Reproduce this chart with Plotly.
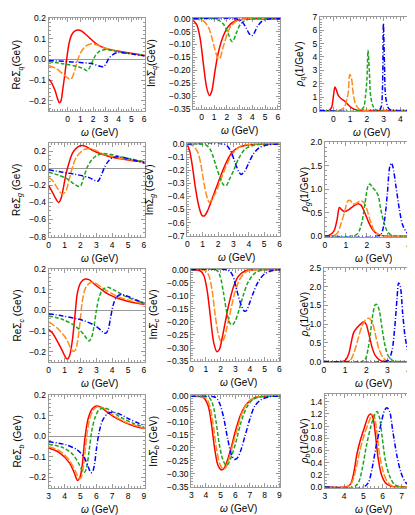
import plotly.graph_objects as go

W, H = 415, 515

# ---- row 1: light quark q ----
re_q_red = [(-1.5, -0.095), (-1.3, -0.11), (-1.0, -0.15), (-0.8, -0.19), (-0.65, -0.21), (-0.55, -0.205),
            (-0.4, -0.15), (-0.2, -0.06), (-0.08, 0.0), (0.1, 0.075), (0.3, 0.117), (0.57, 0.137),
            (0.83, 0.142), (1.1, 0.136), (1.6, 0.11), (2.25, 0.075), (3.0, 0.052), (4.05, 0.039),
            (5.1, 0.028), (6.05, 0.02)]
re_q_orange = [(-1.5, -0.03), (-0.9, -0.045), (-0.34, -0.073), (-0.03, -0.089), (0.18, -0.097), (0.34, -0.089),
               (0.57, -0.05), (0.83, 0.005), (1.09, 0.039), (1.42, 0.064), (1.87, 0.075), (2.25, 0.07),
               (2.9, 0.055), (3.8, 0.039), (4.85, 0.028), (6.05, 0.02)]
re_q_green = [(-1.5, -0.011), (-0.34, -0.022), (0.7, -0.034), (1.22, -0.045), (1.53, -0.055), (1.68, -0.045),
              (1.94, -0.011), (2.2, 0.02), (2.5, 0.039), (3.03, 0.047), (3.8, 0.039), (4.85, 0.028), (6.05, 0.017)]
re_q_blue = [(-1.5, -0.006), (0.7, -0.014), (2.0, -0.023), (2.56, -0.034), (2.82, -0.036), (3.03, -0.019),
             (3.24, 0.005), (3.55, 0.023), (3.94, 0.033), (4.46, 0.031), (5.23, 0.025), (6.05, 0.016)]

im_q_red = [(-0.65, -0.006), (-0.36, -0.025), (-0.1, -0.078), (0.16, -0.18), (0.42, -0.27), (0.63, -0.298),
            (0.81, -0.28), (1.07, -0.2), (1.33, -0.13), (1.72, -0.066), (2.11, -0.03), (2.63, -0.009),
            (3.28, -0.002), (4.5, 0.0), (6.2, 0.0)]
im_q_orange = [(-0.65, 0.0), (0.16, -0.009), (0.55, -0.034), (0.81, -0.072), (1.07, -0.122), (1.33, -0.157),
               (1.46, -0.152), (1.67, -0.116), (1.98, -0.066), (2.29, -0.03), (2.76, -0.009), (3.54, -0.001),
               (6.2, 0.0)]
im_q_green = [(-0.65, 0.0), (1.2, -0.003), (1.72, -0.021), (2.11, -0.059), (2.37, -0.088), (2.5, -0.085),
              (2.76, -0.053), (3.07, -0.021), (3.54, -0.005), (4.2, 0.0), (6.2, 0.0)]
im_q_blue = [(-0.65, 0.0), (2.76, -0.001), (3.2, -0.012), (3.5, -0.035), (3.75, -0.058), (3.95, -0.066),
             (4.12, -0.058), (4.4, -0.03), (4.8, -0.008), (5.3, -0.001), (6.2, 0.0)]

rho_q_red = [(-0.8, 0.0), (-0.26, 0.0), (-0.1, 0.24), (-0.02, 0.85), (0.06, 1.58), (0.1, 1.75), (0.18, 1.53),
             (0.3, 1.1), (0.49, 0.85), (0.69, 0.68), (0.89, 0.41), (1.12, 0.17), (1.42, 0.02), (1.71, 0.0),
             (5.0, 0.0)]
rho_q_orange = [(-0.8, 0.0), (0.33, 0.0), (0.63, 0.19), (0.79, 0.73), (0.89, 1.34), (0.98, 2.68), (1.08, 2.43),
                (1.18, 1.34), (1.32, 0.49), (1.52, 0.12), (1.71, 0.0), (5.0, 0.0)]
rho_q_green = [(-0.8, 0.0), (1.61, 0.0), (1.81, 0.24), (1.91, 0.97), (2.01, 2.43), (2.07, 4.5), (2.15, 2.92),
               (2.24, 0.97), (2.4, 0.24), (2.6, 0.0), (5.0, 0.0)]
rho_q_blue = [(-0.8, 0.0), (2.7, 0.0), (2.85, 0.24), (2.93, 1.46), (2.99, 6.5), (3.05, 3.65), (3.13, 0.97),
              (3.29, 0.17), (3.48, 0.0), (5.0, 0.0)]

# ---- row 2: gluon g ----
re_g_red = [(0, -0.2), (0.21, -0.27), (0.46, -0.36), (0.63, -0.4), (0.77, -0.36), (0.92, -0.24), (1.09, -0.073),
            (1.3, 0.073), (1.51, 0.18), (1.82, 0.247), (2.09, 0.265), (2.34, 0.255), (2.76, 0.21), (3.28, 0.17),
            (3.81, 0.138), (4.44, 0.113), (5.17, 0.091), (6.05, 0.075)]
re_g_orange = [(0, -0.11), (0.25, -0.145), (0.56, -0.236), (0.77, -0.29), (0.92, -0.3), (1.09, -0.265),
               (1.3, -0.127), (1.51, 0.018), (1.72, 0.12), (2.03, 0.19), (2.34, 0.225), (2.66, 0.225),
               (2.97, 0.207), (3.39, 0.17), (4.02, 0.138), (4.85, 0.105), (6.05, 0.08)]
re_g_green = [(0, -0.047), (0.67, -0.084), (1.19, -0.127), (1.61, -0.185), (1.92, -0.215), (2.03, -0.205),
              (2.24, -0.09), (2.45, 0.018), (2.72, 0.098), (3.01, 0.145), (3.39, 0.17), (3.81, 0.164),
              (4.44, 0.138), (5.17, 0.109), (6.05, 0.073)]
re_g_blue = [(0, -0.018), (0.88, -0.047), (1.72, -0.073), (2.55, -0.11), (2.97, -0.148), (3.12, -0.15),
             (3.3, -0.09), (3.5, 0.0), (3.75, 0.08), (4.0, 0.12), (4.3, 0.135), (4.64, 0.127), (5.27, 0.098),
             (6.05, 0.06)]

im_g_red = [(0, -0.005), (0.15, -0.05), (0.32, -0.16), (0.53, -0.335), (0.74, -0.47), (0.96, -0.546),
            (1.1, -0.55), (1.32, -0.51), (1.64, -0.41), (1.96, -0.31), (2.28, -0.21), (2.6, -0.124),
            (2.91, -0.062), (3.34, -0.025), (3.98, -0.005), (4.8, 0.0), (6.05, 0.0)]
im_g_orange = [(0, 0.0), (0.36, -0.012), (0.68, -0.062), (0.89, -0.16), (1.1, -0.31), (1.32, -0.42),
               (1.43, -0.447), (1.53, -0.434), (1.74, -0.397), (2.06, -0.31), (2.38, -0.21), (2.7, -0.124),
               (3.02, -0.062), (3.45, -0.017), (4.0, -0.002), (6.05, 0.0)]
im_g_green = [(0, 0.0), (1.21, -0.007), (1.53, -0.05), (1.85, -0.16), (2.17, -0.27), (2.38, -0.315),
              (2.53, -0.318), (2.74, -0.27), (3.02, -0.2), (3.34, -0.11), (3.77, -0.037), (4.4, -0.007),
              (5.0, 0.0), (6.05, 0.0)]
im_g_blue = [(0, 0.0), (2.49, -0.005), (2.81, -0.05), (3.09, -0.136), (3.34, -0.21), (3.5, -0.232),
             (3.72, -0.21), (3.98, -0.149), (4.3, -0.074), (4.72, -0.025), (5.26, -0.005), (6.05, 0.0)]

rho_g_red = [(0, 0.0), (0.19, 0.014), (0.42, 0.1), (0.58, 0.35), (0.69, 0.61), (0.78, 0.57), (0.94, 0.52),
             (1.13, 0.56), (1.36, 0.64), (1.57, 0.69), (1.72, 0.66), (1.91, 0.49), (2.1, 0.28), (2.3, 0.125),
             (2.54, 0.035), (2.85, 0.0), (4.4, 0.0)]
rho_g_orange = [(0, 0.0), (0.34, 0.0), (0.58, 0.056), (0.78, 0.28), (0.94, 0.52), (1.1, 0.75), (1.21, 0.76),
                (1.33, 0.69), (1.47, 0.69), (1.68, 0.75), (1.83, 0.73), (1.99, 0.59), (2.15, 0.35),
                (2.35, 0.118), (2.57, 0.028), (2.85, 0.0), (4.4, 0.0)]
rho_g_green = [(0, 0.0), (1.36, 0.0), (1.57, 0.056), (1.76, 0.28), (1.91, 0.69), (2.07, 1.08), (2.15, 1.11),
               (2.26, 1.04), (2.41, 0.97), (2.54, 0.87), (2.66, 0.59), (2.82, 0.28), (2.98, 0.1), (3.17, 0.02),
               (3.4, 0.0), (4.4, 0.0)]
rho_g_blue = [(0, 0.0), (2.54, 0.0), (2.7, 0.056), (2.85, 0.35), (2.98, 0.9), (3.09, 1.46), (3.17, 1.56),
              (3.24, 1.49), (3.4, 1.04), (3.56, 0.56), (3.71, 0.24), (3.92, 0.07), (4.18, 0.0), (4.4, 0.0)]

# ---- row 3: charm c ----
re_c_red = [(0, -0.092), (0.25, -0.111), (0.56, -0.151), (0.88, -0.198), (1.09, -0.23), (1.19, -0.235),
            (1.34, -0.214), (1.51, -0.135), (1.67, -0.016), (1.82, 0.087), (2.03, 0.135), (2.3, 0.151),
            (2.55, 0.148), (2.87, 0.127), (3.28, 0.103), (3.81, 0.076), (4.44, 0.056), (5.17, 0.04),
            (6.05, 0.029)]
re_c_orange = [(0, -0.056), (0.56, -0.087), (1.09, -0.135), (1.4, -0.183), (1.55, -0.198), (1.67, -0.194),
               (1.82, -0.151), (1.97, -0.063), (2.13, 0.048), (2.34, 0.111), (2.59, 0.132), (2.87, 0.135),
               (3.18, 0.119), (3.6, 0.098), (4.23, 0.071), (5.06, 0.048), (6.05, 0.032)]
re_c_green = [(0, -0.027), (0.88, -0.044), (1.72, -0.079), (2.24, -0.119), (2.45, -0.143), (2.55, -0.148),
              (2.72, -0.127), (2.87, -0.071), (3.01, 0.0), (3.18, 0.063), (3.39, 0.098), (3.7, 0.111),
              (4.12, 0.098), (4.75, 0.071), (5.38, 0.051), (6.05, 0.035)]
re_c_blue = [(0, -0.016), (0.88, -0.027), (2.13, -0.048), (2.97, -0.076), (3.39, -0.103), (3.6, -0.111),
             (3.74, -0.095), (3.91, -0.032), (4.06, 0.024), (4.27, 0.063), (4.54, 0.076), (4.96, 0.068),
             (5.48, 0.051), (6.05, 0.032)]

im_c_red = [(0, 0.0), (0.63, -0.005), (0.85, -0.021), (1.08, -0.078), (1.3, -0.178), (1.53, -0.279),
            (1.75, -0.314), (1.91, -0.306), (2.09, -0.266), (2.31, -0.203), (2.58, -0.128), (2.88, -0.065),
            (3.21, -0.025), (3.66, -0.005), (4.3, 0.0), (6.07, 0.0)]
im_c_orange = [(0, 0.0), (0.97, -0.003), (1.19, -0.021), (1.42, -0.078), (1.64, -0.178), (1.87, -0.253),
               (2.04, -0.276), (2.2, -0.268), (2.43, -0.222), (2.72, -0.147), (2.99, -0.084), (3.33, -0.034),
               (3.78, -0.006), (4.4, 0.0), (6.07, 0.0)]
im_c_green = [(0, 0.0), (1.75, -0.003), (1.98, -0.028), (2.2, -0.09), (2.43, -0.166), (2.65, -0.206),
              (2.81, -0.211), (2.99, -0.197), (3.26, -0.153), (3.55, -0.097), (3.89, -0.046), (4.34, -0.013),
              (4.9, -0.001), (6.07, 0.0)]
im_c_blue = [(0, 0.0), (2.54, -0.003), (2.81, -0.021), (3.1, -0.078), (3.39, -0.134), (3.62, -0.159),
             (3.75, -0.157), (3.93, -0.134), (4.22, -0.09), (4.56, -0.046), (5.01, -0.015), (5.57, -0.003),
             (6.07, 0.0)]

rho_c_red = [(0, 0.0), (0.86, 0.0), (1.02, 0.04), (1.18, 0.22), (1.3, 0.54), (1.41, 0.78), (1.57, 0.91),
             (1.73, 1.0), (1.88, 1.06), (1.99, 1.0), (2.12, 0.74), (2.27, 0.39), (2.43, 0.156), (2.67, 0.026),
             (2.9, 0.0), (4.4, 0.0)]
rho_c_orange = [(0, 0.0), (1.1, 0.0), (1.25, 0.04), (1.41, 0.22), (1.62, 0.62), (1.8, 0.95), (1.99, 1.13),
                (2.15, 1.15), (2.31, 1.0), (2.46, 0.65), (2.62, 0.3), (2.82, 0.087), (3.06, 0.0), (4.4, 0.0)]
rho_c_green = [(0, 0.0), (1.8, 0.0), (1.96, 0.07), (2.09, 0.35), (2.2, 0.78), (2.31, 1.26), (2.43, 1.52),
               (2.51, 1.52), (2.62, 1.35), (2.75, 0.87), (2.9, 0.39), (3.06, 0.13), (3.29, 0.017), (3.53, 0.0),
               (4.4, 0.0)]
rho_c_blue = [(0, 0.0), (2.9, 0.0), (3.06, 0.04), (3.22, 0.3), (3.34, 0.87), (3.45, 1.65), (3.53, 2.1),
              (3.61, 2.0), (3.72, 1.3), (3.84, 0.65), (4.0, 0.22), (4.2, 0.035), (4.4, 0.0)]

# ---- row 4: bottom b ----
re_b_red = [(3.0, -0.057), (3.67, -0.079), (4.3, -0.128), (4.6, -0.175), (4.82, -0.215), (4.95, -0.205),
            (5.1, -0.15), (5.3, 0.0), (5.5, 0.09), (5.75, 0.135), (6.0, 0.148), (6.28, 0.143), (6.7, 0.118),
            (7.23, 0.09), (7.85, 0.066), (8.48, 0.048), (9.05, 0.038)]
re_b_orange = [(3.0, -0.051), (3.67, -0.07), (4.3, -0.116), (4.72, -0.175), (4.93, -0.207), (5.05, -0.2),
               (5.2, -0.14), (5.4, 0.0), (5.6, 0.09), (5.85, 0.133), (6.12, 0.146), (6.43, 0.139),
               (6.81, 0.118), (7.33, 0.09), (7.96, 0.066), (9.05, 0.04)]
re_b_green = [(3.0, -0.038), (3.88, -0.054), (4.51, -0.087), (4.92, -0.136), (5.13, -0.169), (5.26, -0.175),
              (5.38, -0.156), (5.55, -0.07), (5.72, 0.028), (5.93, 0.093), (6.18, 0.13), (6.49, 0.139),
              (6.91, 0.126), (7.54, 0.093), (8.27, 0.066), (9.05, 0.044)]
re_b_blue = [(3.0, -0.026), (4.09, -0.041), (4.82, -0.067), (5.24, -0.103), (5.51, -0.152), (5.66, -0.177),
             (5.76, -0.174), (5.89, -0.136), (6.01, -0.062), (6.18, 0.02), (6.39, 0.077), (6.7, 0.11),
             (7.02, 0.118), (7.44, 0.11), (8.06, 0.085), (9.05, 0.052)]

im_b_red = [(3.0, 0.0), (3.85, -0.006), (4.15, -0.037), (4.37, -0.105), (4.6, -0.205), (4.82, -0.267),
            (5.04, -0.285), (5.2, -0.282), (5.43, -0.254), (5.72, -0.199), (6.03, -0.13), (6.39, -0.068),
            (6.78, -0.029), (7.22, -0.009), (7.8, 0.0), (9.07, 0.0)]
im_b_orange = [(3.0, 0.0), (3.97, -0.006), (4.26, -0.037), (4.48, -0.105), (4.71, -0.199), (4.93, -0.26),
               (5.16, -0.282), (5.31, -0.279), (5.54, -0.248), (5.81, -0.192), (6.15, -0.124), (6.48, -0.062),
               (6.89, -0.022), (7.34, -0.006), (8.0, 0.0), (9.07, 0.0)]
im_b_green = [(3.0, 0.0), (4.19, -0.004), (4.46, -0.031), (4.69, -0.099), (4.91, -0.186), (5.13, -0.242),
              (5.36, -0.267), (5.49, -0.264), (5.72, -0.236), (6.03, -0.18), (6.37, -0.105), (6.78, -0.043),
              (7.22, -0.012), (7.79, -0.002), (9.07, 0.0)]
im_b_blue = [(3.0, 0.0), (4.64, -0.004), (4.91, -0.025), (5.2, -0.081), (5.49, -0.167), (5.76, -0.23),
             (5.94, -0.244), (6.1, -0.242), (6.33, -0.217), (6.66, -0.155), (7.0, -0.087), (7.34, -0.037),
             (7.79, -0.012), (8.35, -0.002), (9.07, 0.0)]

rho_b_red = [(3.0, 0.0), (4.06, 0.0), (4.32, 0.043), (4.49, 0.21), (4.66, 0.53), (4.83, 0.75), (5.05, 0.97),
             (5.29, 1.18), (5.39, 1.2), (5.51, 1.13), (5.63, 0.86), (5.77, 0.48), (5.94, 0.21), (6.15, 0.07),
             (6.45, 0.01), (6.71, 0.0), (7.8, 0.0)]
rho_b_orange = [(3.0, 0.0), (4.15, 0.0), (4.4, 0.07), (4.61, 0.29), (4.83, 0.61), (5.05, 0.86), (5.29, 1.07),
                (5.46, 1.19), (5.56, 1.17), (5.7, 0.91), (5.85, 0.53), (6.03, 0.26), (6.25, 0.087),
                (6.54, 0.01), (6.79, 0.0), (7.8, 0.0)]
rho_b_green = [(3.0, 0.0), (4.49, 0.0), (4.74, 0.07), (4.95, 0.31), (5.17, 0.69), (5.39, 0.99), (5.6, 1.19),
               (5.72, 1.24), (5.85, 1.13), (5.99, 0.8), (6.16, 0.42), (6.37, 0.18), (6.62, 0.043), (6.97, 0.0),
               (7.8, 0.0)]
rho_b_blue = [(3.0, 0.0), (5.0, 0.0), (5.26, 0.07), (5.46, 0.31), (5.68, 0.69), (5.91, 1.02), (6.11, 1.26),
              (6.23, 1.3), (6.37, 1.24), (6.54, 0.91), (6.76, 0.5), (6.97, 0.23), (7.22, 0.07), (7.56, 0.005),
              (7.8, 0.0)]

STYLES = [("#ff0000", "solid"), ("#ff8c1a", "7px,2px"), ("#1fa51f", "4px,2px"), ("#0000ff", "5px,2px,1px,2px")]
FONT = "Liberation Sans, Arial, sans-serif"

re_ticks = [-0.2, -0.1, 0.0, 0.1, 0.2]
im_ticks = [0.0, -0.05, -0.1, -0.15, -0.2, -0.25, -0.3, -0.35]

# (box left, right, top, bottom in px), x range, y range, x ticks, y ticks, y format, minor dy, y-title, title x px
panels = [
    ((39, 136, 5, 100), [-1.5, 6.05], [-0.25, 0.2], list(range(0, 7)), re_ticks, ".1f", 0.02,
     "ReΣ<sub><i>q</i></sub>(GeV)", 8, [re_q_red, re_q_orange, re_q_green, re_q_blue], True),
    ((185, 273, 5, 98), [-0.65, 6.2], [-0.35, 0.003], list(range(0, 7)), im_ticks, ".2f", 0.01,
     "ImΣ<sub><i>q</i></sub>(GeV)", 144, [im_q_red, im_q_orange, im_q_green, im_q_blue], False),
    ((313, 411, 4, 100), [-0.8, 5.0], [-0.05, 7], list(range(0, 5)), list(range(0, 8)), "d", 0.2,
     "<i>ρ</i><sub><i>q</i></sub>(1/GeV)", 294, [rho_q_red, rho_q_orange, rho_q_green, rho_q_blue], False),

    ((39, 136, 133, 228), [0, 6.05], [-0.8, 0.29], list(range(0, 7)), [-0.8, -0.6, -0.4, -0.2, 0.0, 0.2], ".1f",
     0.05, "ReΣ<sub><i>g</i></sub> (GeV)", 8, [re_g_red, re_g_orange, re_g_green, re_g_blue], True),
    ((179, 273, 133, 227), [0, 6.05], [-0.7, 0.005], list(range(0, 7)), [0.0, -0.1, -0.2, -0.3, -0.4, -0.5, -0.6, -0.7],
     ".1f", 0.02, "ImΣ<sub><i>g</i></sub> (GeV)", 142, [im_g_red, im_g_orange, im_g_green, im_g_blue], False),
    ((318, 411, 132, 228), [0, 4.4], [-0.012, 2.0], list(range(0, 5)), [0.0, 0.5, 1.0, 1.5, 2.0], ".1f", 0.1,
     "<i>ρ</i><sub><i>g</i></sub>(1/GeV)", 298, [rho_g_red, rho_g_orange, rho_g_green, rho_g_blue], False),

    ((39, 136, 261, 356), [0, 6.05], [-0.25, 0.2], list(range(0, 7)), re_ticks, ".1f", 0.02,
     "ReΣ<sub><i>c</i></sub> (GeV)", 8, [re_c_red, re_c_orange, re_c_green, re_c_blue], True),
    ((183, 273, 261, 355), [0, 6.07], [-0.35, 0.003], list(range(0, 7)), im_ticks, ".2f", 0.01,
     "ImΣ<sub><i>c</i></sub> (GeV)", 145, [im_c_red, im_c_orange, im_c_green, im_c_blue], False),
    ((317, 411, 260, 356), [0, 4.4], [-0.015, 2.5], list(range(0, 5)), [0.0, 0.5, 1.0, 1.5, 2.0, 2.5], ".1f", 0.1,
     "<i>ρ</i><sub><i>c</i></sub>(1/GeV)", 298, [rho_c_red, rho_c_orange, rho_c_green, rho_c_blue], False),

    ((39, 136, 390, 484), [3, 9.05], [-0.25, 0.2], list(range(3, 10)), re_ticks, ".1f", 0.02,
     "ReΣ<sub><i>b</i></sub> (GeV)", 8, [re_b_red, re_b_orange, re_b_green, re_b_blue], True),
    ((183, 273, 390, 483), [3, 9.07], [-0.35, 0.003], list(range(3, 10)), im_ticks, ".2f", 0.01,
     "ImΣ<sub><i>b</i></sub> (GeV)", 145, [im_b_red, im_b_orange, im_b_green, im_b_blue], False),
    ((318, 411, 389, 484), [3, 7.8], [-0.01, 1.52], list(range(3, 8)), [0.0, 0.2, 0.4, 0.6, 0.8, 1.0, 1.2, 1.4],
     ".1f", 0.05, "<i>ρ</i><sub><i>b</i></sub>(1/GeV)", 298, [rho_b_red, rho_b_orange, rho_b_green, rho_b_blue],
     False),
]


def frame_axis(domain, rng, ticks, fmt, minor, anchor, zero=False):
    return dict(domain=domain, range=rng, anchor=anchor, tickmode="array", tickvals=ticks, tickformat=fmt,
                showline=True, linecolor="#9a9a9a", linewidth=1, mirror="allticks",
                ticks="inside", ticklen=4, tickwidth=1, tickcolor="#9a9a9a",
                minor=dict(ticks="inside", ticklen=2, tick0=0, dtick=minor, tickcolor="#9a9a9a", showgrid=False),
                showgrid=False, zeroline=zero, zerolinecolor="#999999", zerolinewidth=1,
                tickfont=dict(family=FONT, size=8.5, color="black"), layer="below traces")


fig = go.Figure()
annotations = []
layout = {}
for i, (box, xr, yr, xt, yt, yfmt, ymin, ytitle, tx, curves, zero) in enumerate(panels, start=1):
    left, right, top, bottom = box
    xname = "x" if i == 1 else "x%d" % i
    yname = "y" if i == 1 else "y%d" % i
    layout["xaxis" if i == 1 else "xaxis%d" % i] = frame_axis([left / W, right / W], xr, xt, "d", 0.2, yname)
    layout["yaxis" if i == 1 else "yaxis%d" % i] = frame_axis([1 - bottom / H, 1 - top / H], yr, yt, yfmt,
                                                             ymin, xname, zero)
    for pts, (color, dash) in zip(curves, STYLES):
        fig.add_trace(go.Scatter(x=[p[0] for p in pts], y=[p[1] for p in pts], mode="lines",
                                 line=dict(color=color, dash=dash, width=1.5, shape="spline", smoothing=0.9),
                                 xaxis=xname, yaxis=yname, showlegend=False, hoverinfo="skip"))
    annotations.append(dict(text=ytitle, x=tx / W, y=1 - (top + bottom) / 2 / H, xref="paper", yref="paper",
                            textangle=-90, showarrow=False, xanchor="center", yanchor="middle",
                            font=dict(family=FONT, size=10, color="black")))
    annotations.append(dict(text="<i>ω</i> (GeV)", x=((left + right) / 2 + 3) / W, y=1 - (bottom + 22) / H,
                            xref="paper", yref="paper", showarrow=False, xanchor="center", yanchor="middle",
                            font=dict(family=FONT, size=10, color="black")))

fig.update_layout(width=W, height=H, margin=dict(l=0, r=0, t=0, b=0), plot_bgcolor="white",
                  paper_bgcolor="white", annotations=annotations, **layout)
fig.write_html("out.html")
